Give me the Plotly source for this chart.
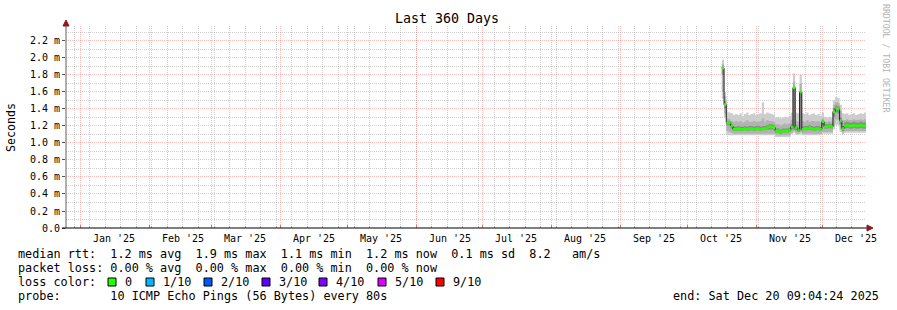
import plotly.graph_objects as go
import pandas as pd

# ---------------- data (values in ms) ----------------
dates = pd.date_range("2025-10-16 12:00", periods=66, freq="D")

median_ms = [
    1.88, 1.45, 1.24, 1.24, 1.20,
    1.16, 1.16, 1.17, 1.16, 1.16,
    1.17, 1.16, 1.17, 1.17, 1.16,
    1.17, 1.17, 1.16, 1.17, 1.17,
    1.18, 1.19, 1.19, 1.18,
    1.14, 1.14, 1.13, 1.14, 1.14, 1.14, 1.15,
    1.19, 1.65, 1.18, 1.15, 1.60,
    1.16, 1.17, 1.17, 1.18, 1.17, 1.16, 1.17, 1.17, 1.16,
    1.25, 1.19, 1.19, 1.20, 1.19,
    1.37, 1.41, 1.40, 1.26, 1.17,
    1.20, 1.21, 1.20, 1.20, 1.21, 1.20, 1.20, 1.21, 1.20, 1.20, 1.20,
]
smoke_max = [
    1.98, 1.60, 1.37, 1.36, 1.35,
    1.33, 1.34, 1.33, 1.35, 1.32,
    1.34, 1.36, 1.33, 1.34, 1.35,
    1.33, 1.34, 1.35, 1.48, 1.34,
    1.36, 1.35, 1.34, 1.33,
    1.30, 1.31, 1.29, 1.30, 1.31, 1.30, 1.32,
    1.36, 1.82, 1.36, 1.35, 1.80,
    1.35, 1.34, 1.36, 1.33, 1.34, 1.35, 1.33, 1.34, 1.32,
    1.36, 1.31, 1.30, 1.31, 1.30,
    1.50, 1.54, 1.53, 1.45, 1.35,
    1.34, 1.35, 1.33, 1.34, 1.35, 1.33, 1.34, 1.35, 1.34, 1.36, 1.35,
]
smoke_hi = [
    1.93, 1.55, 1.29, 1.28, 1.26,
    1.25, 1.26, 1.25, 1.26, 1.24,
    1.25, 1.27, 1.25, 1.25, 1.26,
    1.25, 1.25, 1.26, 1.29, 1.25,
    1.27, 1.26, 1.26, 1.25,
    1.22, 1.22, 1.21, 1.22, 1.23, 1.22, 1.23,
    1.27, 1.72, 1.26, 1.25, 1.70,
    1.26, 1.25, 1.27, 1.25, 1.26, 1.26, 1.25, 1.26, 1.24,
    1.29, 1.25, 1.25, 1.26, 1.25,
    1.45, 1.48, 1.47, 1.38, 1.27,
    1.27, 1.28, 1.27, 1.27, 1.28, 1.27, 1.27, 1.28, 1.27, 1.28, 1.27,
]
smoke_dhi = [
    1.90, 1.49, 1.26, 1.26, 1.22,
    1.19, 1.19, 1.20, 1.19, 1.19,
    1.20, 1.19, 1.20, 1.20, 1.19,
    1.20, 1.20, 1.19, 1.20, 1.20,
    1.21, 1.22, 1.22, 1.21,
    1.17, 1.17, 1.16, 1.17, 1.17, 1.17, 1.18,
    1.22, 1.64, 1.21, 1.18, 1.60,
    1.19, 1.20, 1.20, 1.21, 1.20, 1.19, 1.20, 1.20, 1.19,
    1.27, 1.22, 1.22, 1.23, 1.22,
    1.41, 1.44, 1.43, 1.30, 1.20,
    1.24, 1.25, 1.24, 1.24, 1.25, 1.24, 1.24, 1.25, 1.24, 1.24, 1.24,
]
smoke_dlo = [
    1.80, 1.41, 1.21, 1.21, 1.17,
    1.14, 1.14, 1.15, 1.14, 1.14,
    1.15, 1.14, 1.15, 1.15, 1.14,
    1.15, 1.15, 1.14, 1.15, 1.15,
    1.16, 1.16, 1.16, 1.16,
    1.12, 1.12, 1.11, 1.12, 1.12, 1.12, 1.13,
    1.16, 1.16, 1.15, 1.13, 1.15,
    1.14, 1.15, 1.15, 1.16, 1.15, 1.14, 1.15, 1.15, 1.14,
    1.21, 1.17, 1.17, 1.18, 1.17,
    1.31, 1.36, 1.35, 1.22, 1.14,
    1.17, 1.18, 1.17, 1.17, 1.18, 1.17, 1.17, 1.18, 1.17, 1.17, 1.17,
]
smoke_lo = [
    1.60, 1.35, 1.14, 1.13, 1.12,
    1.11, 1.11, 1.11, 1.11, 1.11,
    1.11, 1.11, 1.11, 1.11, 1.11,
    1.11, 1.11, 1.11, 1.11, 1.11,
    1.11, 1.11, 1.11, 1.11,
    1.09, 1.09, 1.09, 1.09, 1.09, 1.09, 1.09,
    1.12, 1.14, 1.12, 1.11, 1.13,
    1.11, 1.11, 1.11, 1.11, 1.11, 1.11, 1.11, 1.11, 1.11,
    1.13, 1.13, 1.13, 1.13, 1.13,
    1.20, 1.28, 1.27, 1.16, 1.12,
    1.14, 1.14, 1.14, 1.14, 1.14, 1.14, 1.14, 1.14, 1.14, 1.14, 1.14,
]
smoke_min = [
    1.52, 1.30, 1.09, 1.09, 1.09,
    1.09, 1.09, 1.09, 1.09, 1.09,
    1.09, 1.09, 1.09, 1.09, 1.09,
    1.09, 1.09, 1.09, 1.09, 1.09,
    1.09, 1.09, 1.09, 1.09,
    1.07, 1.07, 1.07, 1.07, 1.07, 1.07, 1.07,
    1.10, 1.12, 1.10, 1.09, 1.11,
    1.09, 1.09, 1.09, 1.09, 1.09, 1.09, 1.09, 1.09, 1.09,
    1.11, 1.11, 1.11, 1.11, 1.11,
    1.16, 1.22, 1.21, 1.13, 1.10,
    1.12, 1.12, 1.12, 1.12, 1.12, 1.12, 1.12, 1.12, 1.12, 1.12, 1.12,
]

x_start = "2024-12-25 09:04:24"
x_end = "2025-12-20 09:04:24"
month_starts = ["2025-01-01", "2025-02-01", "2025-03-01", "2025-04-01", "2025-05-01", "2025-06-01",
                "2025-07-01", "2025-08-01", "2025-09-01", "2025-10-01", "2025-11-01", "2025-12-01"]
month_label_pos = ["2025-01-16", "2025-02-16", "2025-03-16", "2025-04-16", "2025-05-16", "2025-06-16",
                   "2025-07-16", "2025-08-16", "2025-09-16", "2025-10-16", "2025-11-16", "2025-12-16"]
month_labels = ["Jan '25", "Feb '25", "Mar '25", "Apr '25", "May '25", "Jun '25",
                "Jul '25", "Aug '25", "Sep '25", "Oct '25", "Nov '25", "Dec '25"]
ytick_vals = [0.0, 0.2, 0.4, 0.6, 0.8, 1.0, 1.2, 1.4, 1.6, 1.8, 2.0, 2.2]
ytick_text = ["0.0", "0.2 m", "0.4 m", "0.6 m", "0.8 m", "1.0 m", "1.2 m", "1.4 m",
              "1.6 m", "1.8 m", "2.0 m", "2.2 m"]
ytick_minor = [0.1, 0.3, 0.5, 0.7, 0.9, 1.1, 1.3, 1.5, 1.7, 1.9, 2.1, 2.3]

loss_labels = ["0", "1/10", "2/10", "3/10", "4/10", "5/10", "9/10"]
loss_colors = ["#26ff00", "#00b8ff", "#0059ff", "#5e00ff", "#7e00ff", "#dd00ff", "#ff0000"]
loss_box_px = [108, 146, 204, 262, 319, 378, 436]

stats_lines = [
    "median rtt:  1.2 ms avg  1.9 ms max  1.1 ms min  1.2 ms now  0.1 ms sd  8.2   am/s",
    "packet loss: 0.00 % avg  0.00 % max  0.00 % min  0.00 % now",
    "loss color:",
    "probe:       10 ICMP Echo Pings (56 Bytes) every 80s",
]
end_text = "end: Sat Dec 20 09:04:24 2025"
title_text = "Last 360 Days"

# ---------------- geometry helpers ----------------
W, H = 897, 310
L, R, T, B = 66, 866, 26, 228
PW, PH = R - L, B - T
Y_TOP = 2.376

def px(x):
    return (x - L) / PW

def py(y):
    return (B - y) / PH

MONO = "DejaVu Sans Mono"
band_half = 0.016

fig = go.Figure()

def band(lo, hi, color):
    fig.add_trace(go.Scatter(x=dates, y=lo, mode="lines", line=dict(width=0, shape="hv"),
                             showlegend=False, hoverinfo="skip"))
    fig.add_trace(go.Scatter(x=dates, y=hi, mode="lines", line=dict(width=0, shape="hv"),
                             fill="tonexty", fillcolor=color, showlegend=False, hoverinfo="skip"))

band(smoke_min, smoke_max, "#cdcdcd")
band(smoke_lo, smoke_hi, "#b2b2b2")
band(smoke_dlo, smoke_dhi, "#8a8a8a")

fig.add_trace(go.Scatter(x=dates, y=median_ms, mode="lines",
                         line=dict(color="#202020", width=1, shape="hv"),
                         showlegend=False, hoverinfo="skip"))
band([m - band_half for m in median_ms], [m + band_half for m in median_ms], "#26ff00")

grid_major = "rgba(255,110,110,0.45)"
grid_minor = "rgba(160,160,160,0.5)"

fig.update_layout(
    width=W, height=H,
    margin=dict(l=L, r=W - R, t=T, b=H - B, pad=0),
    paper_bgcolor="white", plot_bgcolor="white",
    font=dict(family=MONO, size=10, color="black"),
    showlegend=False,
    xaxis=dict(
        type="date", range=[x_start, x_end], tickmode="array", tickvals=month_starts,
        showticklabels=False, showgrid=True, gridcolor=grid_major, gridwidth=1, griddash="1px,1px",
        ticks="inside", ticklen=3, tickcolor="#e07070", zeroline=False, showline=False,
        minor=dict(tickmode="linear", tick0="2024-12-29", dtick=7 * 86400000, showgrid=True,
                   gridcolor=grid_minor, griddash="1px,1px", ticks="inside", ticklen=2,
                   tickcolor="#aaaaaa"),
    ),
    yaxis=dict(
        range=[0, Y_TOP], tickmode="array", tickvals=ytick_vals, ticktext=ytick_text,
        showgrid=True, gridcolor=grid_major, gridwidth=1, griddash="1px,1px",
        ticks="outside", ticklen=3, tickcolor="#555555", zeroline=False, showline=False,
        tickfont=dict(family=MONO, size=10, color="black"),
        minor=dict(tickmode="array", tickvals=ytick_minor, showgrid=True,
                   gridcolor=grid_minor, griddash="1px,1px"),
    ),
)

shapes = []
shapes.append(dict(type="line", xref="paper", yref="paper", x0=px(66), x1=px(66), y0=py(228), y1=py(24),
                   line=dict(color="#606060", width=1)))
shapes.append(dict(type="line", xref="paper", yref="paper", x0=px(62), x1=px(868), y0=py(228), y1=py(228),
                   line=dict(color="#000000", width=1)))
shapes.append(dict(type="path", xref="paper", yref="paper",
                   path=f"M {px(63)},{py(26)} L {px(69)},{py(26)} L {px(66)},{py(20)} Z",
                   fillcolor="#8b1a1a", line=dict(color="#8b1a1a", width=1)))
shapes.append(dict(type="path", xref="paper", yref="paper",
                   path=f"M {px(867)},{py(225)} L {px(867)},{py(231)} L {px(873)},{py(228)} Z",
                   fillcolor="#8b1a1a", line=dict(color="#8b1a1a", width=1)))
for bx, col in zip(loss_box_px, loss_colors):
    shapes.append(dict(type="rect", xref="paper", yref="paper", x0=px(bx), x1=px(bx + 8),
                       y0=py(286), y1=py(278), fillcolor=col, line=dict(color="black", width=1)))
fig.update_layout(shapes=shapes)

ann = []
def text(x, y, s, size=11.8, xanchor="left", color="black", angle=0, family=MONO, xref="paper"):
    ann.append(dict(x=x, y=y, xref=xref, yref="paper", text=s.replace(" ", "\u00a0"),
                    showarrow=False, xanchor=xanchor, yanchor="middle", textangle=angle,
                    font=dict(family=family, size=size, color=color)))

for pos, lab in zip(month_label_pos, month_labels):
    text(pos, py(238), lab, size=10, xanchor="center", xref="x")

text(px(447), py(19), title_text, size=13.3, xanchor="center")
text(px(11), py(127), "Seconds", size=11.6, xanchor="center", angle=-90)
text(px(886), py(59), "RRDTOOL / TOBI OETIKER", size=8.2, xanchor="center", angle=90, color="#b4b4b4")

line_y = [254, 268, 282, 296]
for s, yy in zip(stats_lines, line_y):
    text(px(16), py(yy), s)
for bx, lab in zip(loss_box_px, loss_labels):
    text(px(bx + 15), py(282), lab)
text(px(881), py(296), end_text, xanchor="right")

fig.update_layout(annotations=ann)
fig.write_html("out.html")
